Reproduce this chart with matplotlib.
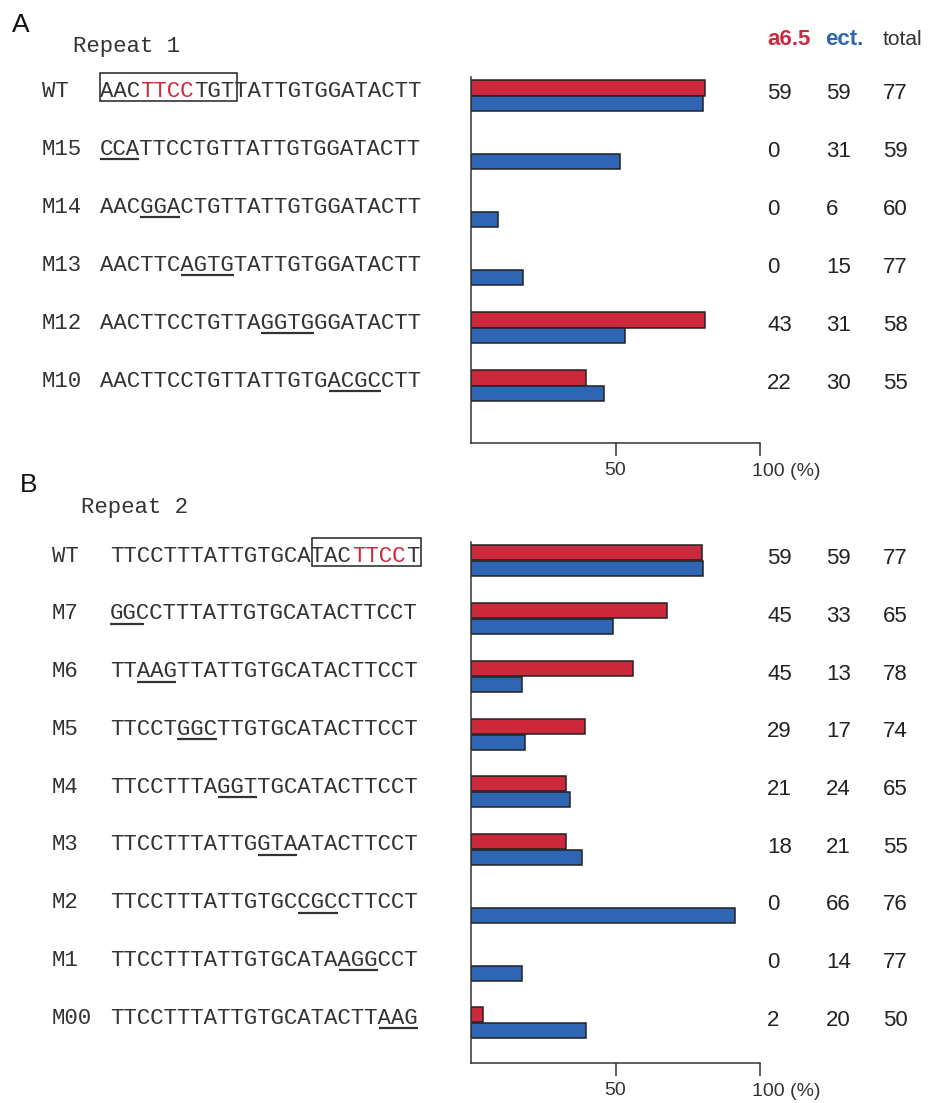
import matplotlib
matplotlib.use("Agg")
import matplotlib.pyplot as plt
from matplotlib.patches import Rectangle

W, H = 931, 1103
RED = "#cc2a3c"
BLUE = "#2f66b3"
INK = "#333333"
EDGE = "#222222"
MONO = "Liberation Mono"
SANS = "Liberation Sans"
CHAR_W = 13.45                      # px per character of the sequences
SEQ_FS = CHAR_W / 0.6 * 72 / 100    # Liberation Mono advance is 0.6 em

# ---- repeat 1 (panel A)
rep1_names = ["WT", "M15", "M14", "M13", "M12", "M10"]
rep1_seqs = ["AACTTCCTGTTATTGTGGATACTT", "CCATTCCTGTTATTGTGGATACTT",
             "AACGGACTGTTATTGTGGATACTT", "AACTTCAGTGTATTGTGGATACTT",
             "AACTTCCTGTTAGGTGGGATACTT", "AACTTCCTGTTATTGTGACGCCTT"]
rep1_mut = [None, (0, 3), (3, 6), (6, 10), (12, 16), (17, 21)]
rep1_box = (0, 10)
rep1_red = (3, 7)
rep1_a65_pct = [80.9, 0, 0, 0, 80.9, 39.7]
rep1_ect_pct = [80.4, 51.6, 9.5, 18.0, 53.2, 46.0]
rep1_a65_n = [59, 0, 0, 0, 43, 22]
rep1_ect_n = [59, 31, 6, 15, 31, 30]
rep1_total = [77, 59, 60, 77, 58, 55]

# ---- repeat 2 (panel B)
rep2_names = ["WT", "M7", "M6", "M5", "M4", "M3", "M2", "M1", "M00"]
rep2_seqs = ["TTCCTTTATTGTGCATACTTCCT", "GGCCTTTATTGTGCATACTTCCT",
             "TTAAGTTATTGTGCATACTTCCT", "TTCCTGGCTTGTGCATACTTCCT",
             "TTCCTTTAGGTTGCATACTTCCT", "TTCCTTTATTGGTAATACTTCCT",
             "TTCCTTTATTGTGCCGCCTTCCT", "TTCCTTTATTGTGCATAAGGCCT",
             "TTCCTTTATTGTGCATACTTAAG"]
rep2_mut = [None, (0, 2.6), (2, 5), (5, 8), (8, 11), (11, 14), (14, 17), (17, 20), (20, 23)]
rep2_box = (15, 23)
rep2_red = (18, 22)
rep2_a65_pct = [79.9, 67.7, 56.1, 39.3, 32.8, 32.8, 0, 0, 4.2]
rep2_ect_pct = [80.2, 49.3, 17.6, 18.7, 34.1, 38.3, 91.4, 17.7, 39.9]
rep2_a65_n = [59, 45, 45, 29, 21, 18, 0, 0, 2]
rep2_ect_n = [59, 33, 13, 17, 24, 21, 66, 14, 20]
rep2_total = [77, 65, 78, 74, 65, 55, 76, 77, 50]

# layout in pixels
LAYOUT_A = dict(first_row=90, step=58, top=77, bottom=443, label_x=42, seq_x=100)
LAYOUT_B = dict(first_row=555, step=57.75, top=542, bottom=1063, label_x=52, seq_x=110)
AX_LEFT, AX_RIGHT = 471, 760
NUM_COLS = [767, 826, 883]


def draw_seq(cv, x0, y, seq, red=None):
    spans = [(0, len(seq), INK)]
    if red is not None:
        spans = [(0, red[0], INK), (red[0], red[1], RED), (red[1], len(seq), INK)]
    for a, b, c in spans:
        if b > a:
            cv.text(x0 + a * CHAR_W, y + 6.7, seq[a:b], color=c, fontsize=SEQ_FS,
                    family=MONO, ha="left", va="baseline")


def draw_panel(fig, cv, lay, names, seqs, muts, box, red, a65_pct, ect_pct, a65_n, ect_n, totals):
    n = len(names)
    for i in range(n):
        y = lay["first_row"] + i * lay["step"]
        cv.text(lay["label_x"], y + 6.7, names[i], color=INK, fontsize=SEQ_FS,
                family=MONO, ha="left", va="baseline")
        draw_seq(cv, lay["seq_x"], y, seqs[i], red if i == 0 else None)
        if muts[i] is not None:
            a, b = muts[i]
            cv.plot([lay["seq_x"] + a * CHAR_W, lay["seq_x"] + b * CHAR_W - 1], [y + 11, y + 11],
                    color=INK, lw=1.6, solid_capstyle="butt")
        for x, v in zip(NUM_COLS, (a65_n[i], ect_n[i], totals[i])):
            cv.text(x, y + 9, str(v), color="#222222", fontsize=16, family=SANS,
                    ha="left", va="baseline")
    y0 = lay["first_row"]
    bx0 = lay["seq_x"] + box[0] * CHAR_W
    bx1 = lay["seq_x"] + box[1] * CHAR_W + 2
    cv.add_patch(Rectangle((bx0, y0 - 17), bx1 - bx0, 28, fill=False, ec=EDGE, lw=1.1))

    ax = fig.add_axes([AX_LEFT / W, 1 - lay["bottom"] / H,
                       (AX_RIGHT - AX_LEFT) / W, (lay["bottom"] - lay["top"]) / H])
    ax.set_facecolor("none")
    rows = list(range(n))
    ax.barh([r - 0.035 for r in rows], a65_pct, height=0.26, color=RED, edgecolor=EDGE,
            linewidth=[1.1 if v > 0 else 0 for v in a65_pct])
    ax.barh([r + 0.24 for r in rows], ect_pct, height=0.26, color=BLUE, edgecolor=EDGE,
            linewidth=[1.1 if v > 0 else 0 for v in ect_pct])
    ax.set_xlim(0, 100)
    ax.set_ylim((lay["bottom"] - y0) / lay["step"], (lay["top"] - y0) / lay["step"])
    for s in ("top", "right"):
        ax.spines[s].set_visible(False)
    for s in ("left", "bottom"):
        ax.spines[s].set_linewidth(1.1)
        ax.spines[s].set_color(INK)
    ax.set_yticks([])
    ax.set_xticks([50, 100])
    ax.set_xticklabels(["50", ""])
    ax.tick_params(axis="x", direction="out", length=9, width=1.1, pad=5,
                   labelsize=14, colors=INK)
    for lbl in ax.get_xticklabels():
        lbl.set_family(SANS)
    ax.annotate("100 (%)", xy=(100, 0), xycoords=("data", "axes fraction"),
                xytext=(-8, -20), textcoords="offset pixels", ha="left", va="top",
                fontsize=14, family=SANS, color=INK)
    return ax


fig = plt.figure(figsize=(W / 100, H / 100), dpi=100)
cv = fig.add_axes([0, 0, 1, 1])
cv.set_xlim(0, W); cv.set_ylim(H, 0); cv.axis("off")

cv.text(12, 32, "A", fontsize=19, family=SANS, color="#111111", va="baseline")
cv.text(20, 492, "B", fontsize=19, family=SANS, color="#111111", va="baseline")
cv.text(73, 52, "Repeat 1", fontsize=SEQ_FS, family=MONO, color=INK, va="baseline")
cv.text(81, 513, "Repeat 2", fontsize=SEQ_FS, family=MONO, color=INK, va="baseline")
cv.text(767, 45, "a6.5", fontsize=16, family=SANS, weight="bold", color=RED, va="baseline")
cv.text(825, 45, "ect.", fontsize=16, family=SANS, weight="bold", color=BLUE, va="baseline")
cv.text(883, 45, "total", fontsize=15, family=SANS, color=INK, va="baseline")

draw_panel(fig, cv, LAYOUT_A, rep1_names, rep1_seqs, rep1_mut, rep1_box, rep1_red,
           rep1_a65_pct, rep1_ect_pct, rep1_a65_n, rep1_ect_n, rep1_total)
draw_panel(fig, cv, LAYOUT_B, rep2_names, rep2_seqs, rep2_mut, rep2_box, rep2_red,
           rep2_a65_pct, rep2_ect_pct, rep2_a65_n, rep2_ect_n, rep2_total)

fig.savefig("out.png", dpi=100)
plt.close(fig)
